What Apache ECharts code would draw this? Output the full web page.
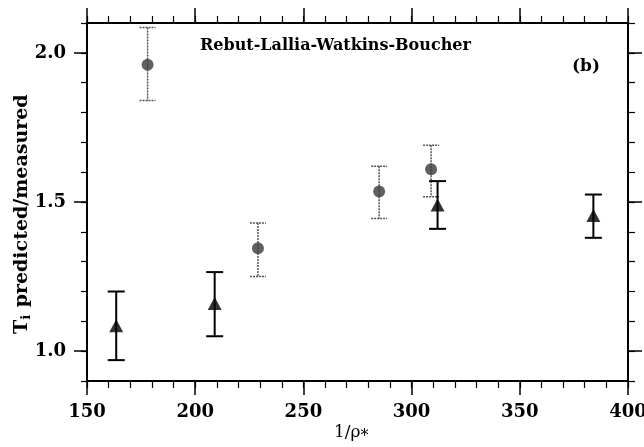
<!DOCTYPE html>
<html>
<head>
<meta charset="utf-8">
<script src="https://cdn.jsdelivr.net/npm/echarts@6/dist/echarts.min.js"></script>
<style>
  html, body { margin: 0; padding: 0; background: #fff; }
  #chart { width: 644px; height: 447px; }
</style>
</head>
<body>
<div id="chart"></div>
<script>
// circles (dotted error bars)
const circleX = [178, 229, 285, 309];
const circleY = [1.96, 1.345, 1.535, 1.61];
const circleLo = [1.84, 1.25, 1.445, 1.518];
const circleHi = [2.085, 1.43, 1.62, 1.69];

// triangles (solid error bars)
const triX = [163.5, 209, 312, 384];
const triY = [1.085, 1.16, 1.49, 1.455];
const triLo = [0.97, 1.05, 1.41, 1.38];
const triHi = [1.2, 1.265, 1.57, 1.525];

const yMajor = [1.0, 1.5, 2.0];

const serif = "DejaVu Serif";

function errorBars(xs, lo, hi, style, cap) {
  return {
    type: "custom",
    xAxisIndex: 0,
    yAxisIndex: 0,
    data: xs.map((x, i) => [x, lo[i], hi[i]]),
    renderItem: (params, api) => {
      const top = api.coord([api.value(0), api.value(2)]);
      const bot = api.coord([api.value(0), api.value(1)]);
      return {
        type: "group",
        children: [
          { type: "line", shape: { x1: top[0], y1: top[1], x2: bot[0], y2: bot[1] }, style: style },
          { type: "line", shape: { x1: top[0] - cap, y1: top[1], x2: top[0] + cap, y2: top[1] }, style: style },
          { type: "line", shape: { x1: bot[0] - cap, y1: bot[1], x2: bot[0] + cap, y2: bot[1] }, style: style },
        ],
      };
    },
    z: 2,
  };
}

const chart = echarts.init(document.getElementById("chart"));

// major x ticks every 50, minor every 10 (separate axes so both show on top and bottom)
const xMajor = {
  type: "value",
  min: 150,
  max: 400,
  interval: 50,
  axisLine: { onZero: false, lineStyle: { color: "#000", width: 2 } },
  axisTick: { length: 14, lineStyle: { color: "#000", width: 1.5 } },
  splitLine: { show: false },
};
const xMinor = {
  type: "value",
  min: 150,
  max: 400,
  interval: 10,
  axisLine: { show: false, onZero: false },
  axisTick: { length: 7, lineStyle: { color: "#000", width: 1.2 } },
  axisLabel: { show: false },
  splitLine: { show: false },
};

const yMinor = {
  type: "value",
  min: 0.9,
  max: 2.1,
  interval: 0.1,
  axisLine: { show: true, lineStyle: { color: "#000", width: 2 } },
  axisTick: { length: 6, lineStyle: { color: "#000", width: 1.2 } },
  axisLabel: { show: false },
  splitLine: { show: false },
};

const yMajorAxis = {
  type: "value",
  min: 0.9,
  max: 2.1,
  interval: 0.1,
  axisLine: { show: false },
  axisTick: { customValues: yMajor, length: 13, lineStyle: { color: "#000", width: 1.5 } },
  splitLine: { show: false },
};

chart.setOption({
  animation: false,
  grid: { left: 87, right: 16, top: 23, bottom: 66, outerBoundsMode: "none", containLabel: false },
  xAxis: [
    Object.assign({}, xMajor, {
      position: "bottom",
      axisLabel: { color: "#000", fontFamily: serif, fontWeight: "bold", fontSize: 18, margin: 22 },
    }),
    Object.assign({}, xMajor, { position: "top", axisTick: { length: 15, lineStyle: { color: "#000", width: 1.5 } }, axisLabel: { show: false } }),
    Object.assign({}, xMinor, { position: "bottom" }),
    Object.assign({}, xMinor, { position: "top" }),
  ],
  yAxis: [
    Object.assign({}, yMinor, { position: "left" }),
    Object.assign({}, yMajorAxis, {
      position: "left",
      axisLabel: {
        customValues: yMajor,
        formatter: (v) => v.toFixed(1),
        color: "#000",
        fontFamily: serif,
        fontWeight: "bold",
        fontSize: 18,
        margin: 21,
      },
    }),
    Object.assign({}, yMinor, { position: "right", axisTick: { length: 7, lineStyle: { color: "#000", width: 1.2 } } }),
    Object.assign({}, yMajorAxis, { position: "right", axisTick: { customValues: yMajor, length: 14, lineStyle: { color: "#000", width: 1.5 } }, axisLabel: { show: false } }),
  ],
  graphic: [
    {
      type: "text",
      left: 200,
      top: 38,
      style: { text: "Rebut-Lallia-Watkins-Boucher", font: "bold 16px 'DejaVu Serif'", fill: "#000" },
    },
    {
      type: "text",
      left: 572,
      top: 58,
      style: { text: "(b)", font: "bold 17px 'DejaVu Serif'", fill: "#000" },
    },
    {
      type: "text",
      x: 11,
      y: 334,
      rotation: Math.PI / 2,
      style: {
        text: "T{s|i} predicted/measured",
        font: "bold 19px 'DejaVu Serif'",
        fill: "#000",
        rich: { s: { font: "bold 13px 'DejaVu Serif'", fill: "#000", padding: [9, 1, 0, 0] } },
      },
    },
    {
      type: "text",
      left: 334,
      top: 424,
      style: {
        text: "1/ρ{s|*}",
        font: "17px 'DejaVu Serif'",
        fill: "#000",
        rich: { s: { font: "16px 'DejaVu Serif'", fill: "#000", padding: [8, 0, 0, 0] } },
      },
    },
  ],
  series: [
    errorBars(circleX, circleLo, circleHi, { stroke: "#555", lineWidth: 1.5, lineDash: [2, 1] }, 8),
    errorBars(triX, triLo, triHi, { stroke: "#000", lineWidth: 2 }, 8.5),
    {
      type: "scatter",
      xAxisIndex: 0,
      yAxisIndex: 0,
      symbol: "circle",
      symbolSize: 12,
      itemStyle: { color: "#3a3a3a" },
      data: circleX.map((x, i) => [x, circleY[i]]),
      z: 3,
    },
    {
      type: "scatter",
      xAxisIndex: 0,
      yAxisIndex: 0,
      symbol: "triangle",
      symbolSize: [14, 13],
      itemStyle: { color: "#000" },
      data: triX.map((x, i) => [x, triY[i]]),
      z: 3,
    },
  ],
});
</script>
</body>
</html>
